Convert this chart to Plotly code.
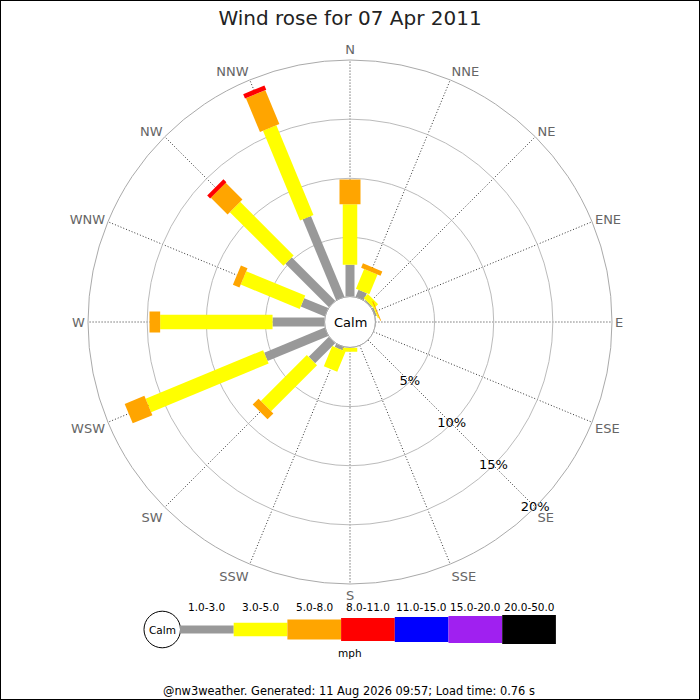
"""
Wind rose for one day of nw3weather data.

Stacked speed classes per compass direction, drawn as thick radial strokes
so each segment keeps a constant pixel width like the original rose.
"""

import plotly.graph_objects as go

# compass directions, clockwise from north
directions = ['N', 'NNE', 'NE', 'ENE', 'E', 'ESE', 'SE', 'SSE',
              'S', 'SSW', 'SW', 'WSW', 'W', 'WNW', 'NW', 'NNW']

# percentage of the day in each speed class (mph)
speed_labels = ['1.0-3.0', '3.0-5.0', '5.0-8.0', '8.0-11.0',
                '11.0-15.0', '15.0-20.0', '20.0-50.0']
pct_1_3 = [2.7, 0.65, 0.1, 0.15, 0.05, 0, 0, 0, 0.02, 0.3, 2.4, 5.55, 4.4, 2.2, 5.2, 7.4]
pct_3_5 = [5.1, 1.8, 0.5, 0.1, 0, 0, 0, 0, 0.35, 1.85, 5.5, 10.75, 9.5, 5.4, 6.4, 8.2]
pct_5_8 = [2.1, 0.4, 0, 0.08, 0, 0, 0, 0, 0, 0, 0.7, 1.8, 0.9, 0.6, 2.0, 3.1]
pct_8_11 = [0, 0, 0, 0, 0, 0, 0, 0, 0, 0, 0, 0, 0, 0, 0.35, 0.4]
pct_11_15 = [0] * 16
pct_15_20 = [0] * 16
pct_20_50 = [0] * 16

# radial rings
ring_vals = [5, 10, 15, 20]
ring_labels = ['5%', '10%', '15%', '20%']

# styling per speed class
colors = ['#999999', '#ffff00', '#ffa500', '#ff0000', '#0000ff', '#a020f0', '#000000']
stroke_widths = [9, 14.5, 21, 23, 25, 27, 29]

W = H = 700
FONT = 'DejaVu Sans'


def px(x):
    return x / W


def py(y):
    return 1 - y / H


def label(text, x, y, size, color='#000000'):
    # paper annotation centred on a pixel position
    fig.add_annotation(text=text, x=px(x), y=py(y), xref='paper', yref='paper',
                       xanchor='center', yanchor='middle', showarrow=False,
                       font=dict(family=FONT, size=size, color=color))


series = [pct_1_3, pct_3_5, pct_5_8, pct_8_11, pct_11_15, pct_15_20, pct_20_50]

fig = go.Figure()

# stack the classes outward from the calm circle
base = [0.0] * len(directions)
for vals, col, lw, lab in zip(series, colors, stroke_widths, speed_labels):
    r, theta = [], []
    for i, d in enumerate(directions):
        if vals[i] > 0:
            r += [base[i], base[i] + vals[i], None]
            theta += [d, d, None]
        base[i] += vals[i]
    if r:
        fig.add_trace(go.Scatterpolar(
            r=r, theta=theta, mode='lines',
            line=dict(color=col, width=lw),
            name=lab, hoverinfo='skip', showlegend=False
        ))

# ring labels along the SE spoke
fig.add_trace(go.Scatterpolar(
    r=ring_vals, theta=['SE'] * len(ring_vals), mode='text',
    text=ring_labels, textposition='middle center',
    textfont=dict(family=FONT, size=13, color='#000000'),
    hoverinfo='skip', showlegend=False, cliponaxis=False
))

fig.update_layout(
    width=W, height=H,
    margin=dict(l=0, r=0, t=0, b=0),
    paper_bgcolor='white',
    font=dict(family=FONT, size=13, color='#222222'),
    title=dict(text='Wind rose for 07 Apr 2011', x=0.5, xanchor='center',
               y=py(18), yanchor='middle', font=dict(family=FONT, size=20, color='#222222')),
    polar=dict(
        domain=dict(x=[px(88), px(612)], y=[py(584), py(60)]),
        hole=0.097,
        bgcolor='white',
        radialaxis=dict(
            range=[0, 20], tickvals=ring_vals, showticklabels=False,
            showline=False, ticks='', gridcolor='#bbbbbb', gridwidth=1
        ),
        angularaxis=dict(
            type='category', categoryorder='array', categoryarray=directions,
            direction='clockwise', rotation=90, ticks='',
            showline=True, linecolor='#aaaaaa', linewidth=1,
            gridcolor='#333333', griddash='1px,2px', gridwidth=1,
            tickfont=dict(family=FONT, size=13, color='#666666')
        )
    )
)

# calm circle outline and label
cx, cy, cr = 350, 322, 25.5
fig.add_shape(type='circle', xref='paper', yref='paper',
              x0=px(cx - cr), x1=px(cx + cr), y0=py(cy + cr), y1=py(cy - cr),
              line=dict(color='#aaaaaa', width=1), fillcolor='white', layer='below')
label('Calm', cx, cy, 13)

# legend strip along the bottom
leg_y = 629.5
leg_x0 = 180
seg_w = 53.7
fig.add_shape(type='circle', xref='paper', yref='paper',
              x0=px(144), x1=px(180.5), y0=py(leg_y + 18.3), y1=py(leg_y - 18.3),
              line=dict(color='#000000', width=1), fillcolor='white')
label('Calm', 162.3, leg_y, 10.5)
for k, (lab, col, lw) in enumerate(zip(speed_labels, colors, stroke_widths)):
    h = lw - 1 if k < 3 else lw
    x0 = leg_x0 + k * seg_w
    fig.add_shape(type='rect', xref='paper', yref='paper',
                  x0=px(x0), x1=px(x0 + seg_w), y0=py(leg_y + h / 2), y1=py(leg_y - h / 2),
                  line=dict(width=0), fillcolor=col)
    label(lab, x0 + seg_w / 2, 607, 10.5)
label('mph', 350, 653, 10.5)

# footer and frame
label('@nw3weather. Generated: 11 Aug 2026 09:57; Load time: 0.76 s', 349, 691, 11.4)
fig.add_shape(type='rect', xref='paper', yref='paper', x0=0, x1=1, y0=0, y1=1,
              line=dict(color='#000000', width=2))

fig.write_html('out.html', config={'displayModeBar': False},
               post_script="document.body.style.margin='0';")
